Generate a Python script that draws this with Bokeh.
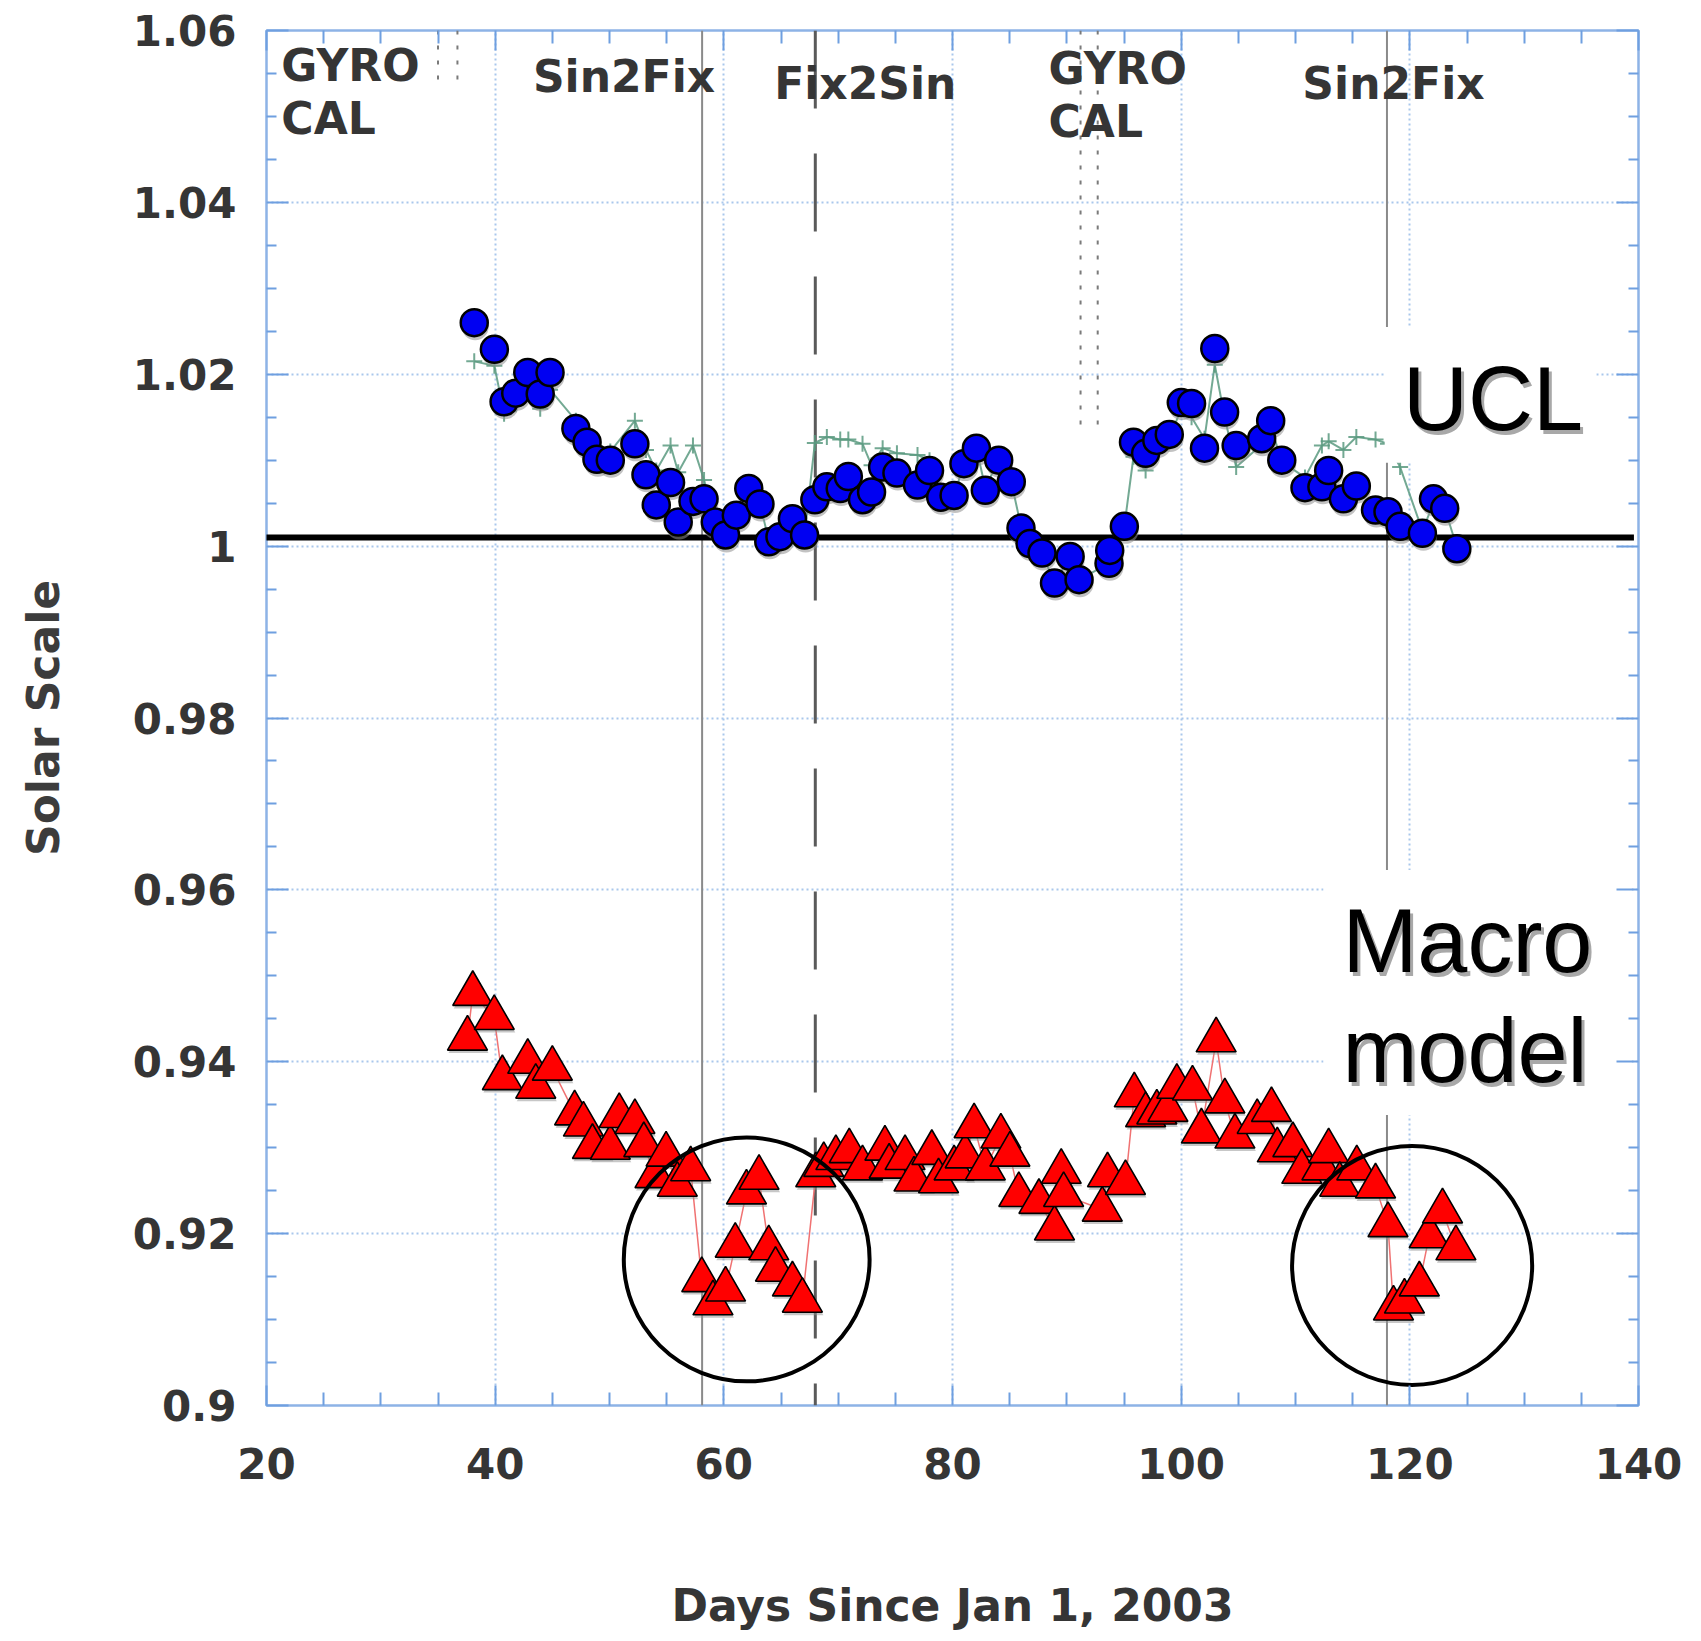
from bokeh.plotting import figure
from bokeh.models import FixedTicker, LinearAxis, Label, CustomJSTickFormatter
from bokeh.embed import file_html
from bokeh.resources import INLINE

# ---------------- data ----------------
ucl_x = [38.17, 39.93, 40.78, 41.80, 42.85, 43.94, 44.80, 47.06, 48.04, 48.90,
         50.07, 52.22, 53.19, 54.09, 55.34, 56.01, 57.30, 58.27, 59.25, 60.15,
         61.09, 62.18, 63.16, 63.93, 64.91, 66.00, 67.06, 67.96, 69.01, 70.18,
         70.89, 72.13, 72.92, 73.89, 75.14, 76.94, 77.99, 78.97, 80.14, 81.00,
         82.09, 82.87, 84.04, 85.14, 85.99, 86.78, 87.83, 88.92, 90.29, 91.07,
         93.69, 93.75, 95.03, 95.83, 96.89, 97.87, 98.96, 100.01, 100.91, 102.04,
         102.94, 103.80, 104.81, 107.04, 107.83, 108.80, 110.83, 112.31, 112.90, 114.19,
         115.32, 117.00, 118.09, 119.15, 121.10, 122.07, 123.05, 124.11]
ucl_y = [1.0260, 1.0229, 1.0168, 1.0178, 1.0202, 1.0177, 1.0202, 1.0137, 1.0121, 1.0101,
         1.0100, 1.0119, 1.0083, 1.0048, 1.0074, 1.0028, 1.0052, 1.0055, 1.0028, 1.0013,
         1.0036, 1.0067, 1.0049, 1.0005, 1.0011, 1.0032, 1.0013, 1.0054, 1.0069, 1.0067,
         1.0081, 1.0054, 1.0063, 1.0092, 1.0085, 1.0071, 1.0088, 1.0057, 1.0059, 1.0096,
         1.0114, 1.0065, 1.0100, 1.0075, 1.0021, 1.0003, 0.9992, 0.9957, 0.9988, 0.9961,
         0.9980, 0.9995, 1.0023, 1.0121, 1.0108, 1.0123, 1.0130, 1.0167, 1.0166, 1.0114,
         1.0230, 1.0156, 1.0117, 1.0125, 1.0146, 1.0100, 1.0068, 1.0069, 1.0088, 1.0055,
         1.0070, 1.0042, 1.0040, 1.0023, 1.0015, 1.0055, 1.0044, 0.9997]

# secondary (green, "+") UCL trace
alt_x = list(ucl_x)
alt_y = [1.0215, 1.0210, 1.0154, 1.0165, 1.0185, 1.0160, 1.0182, 1.0146, 1.0128, 1.0108,
         1.0110, 1.0146, 1.0112, 1.0088, 1.0117, 1.0086, 1.0117, 1.0077, 1.0030, 1.0015,
         1.0036, 1.0067, 1.0049, 1.0007, 1.0011, 1.0032, 1.0013, 1.0120, 1.0127, 1.0124,
         1.0124, 1.0119, 1.0094, 1.0114, 1.0108, 1.0106, 1.0100, 1.0062, 1.0059, 1.0096,
         1.0114, 1.0068, 1.0100, 1.0075, 1.0023, 1.0005, 0.9992, 0.9957, 0.9988, 0.9961,
         0.9980, 0.9995, 1.0023, 1.0104, 1.0088, 1.0115, 1.0125, 1.0160, 1.0150, 1.0125,
         1.0211, 1.0150, 1.0092, 1.0118, 1.0140, 1.0098, 1.0080, 1.0117, 1.0122, 1.0112,
         1.0127, 1.0124, 1.0119, 1.0092, 1.0018, 1.0050, 1.0044, 0.9999]

macro_x = [37.58, 38.04, 39.92, 40.63, 42.85, 43.55, 45.00, 46.95, 47.72, 48.51,
           50.07, 50.85, 52.22, 53.00, 53.98, 54.95, 55.93, 57.10, 58.07, 59.05,
           60.15, 61.00, 61.98, 63.08, 63.93, 64.52, 66.00, 66.87, 68.04, 68.74,
           69.80, 70.97, 72.13, 74.09, 74.46, 75.85, 76.63, 78.19, 78.78, 80.14,
           81.11, 81.89, 82.87, 84.23, 85.02, 85.80, 87.56, 88.92, 89.51, 89.72,
           93.10, 93.56, 95.13, 95.90, 96.89, 97.87, 98.84, 99.62, 100.99, 101.77,
           103.06, 103.82, 104.70, 106.65, 107.90, 108.41, 109.77, 110.55, 112.31, 112.90,
           113.87, 115.36, 117.00, 118.09, 118.57, 119.53, 120.83, 121.69, 122.86, 124.03]
macro_y = [0.9427, 0.9479, 0.9451, 0.9381, 0.9400, 0.9371, 0.9392, 0.9340, 0.9327, 0.9301,
           0.9300, 0.9337, 0.9330, 0.9303, 0.9267, 0.9292, 0.9257, 0.9275, 0.9146, 0.9119,
           0.9135, 0.9186, 0.9248, 0.9265, 0.9183, 0.9158, 0.9141, 0.9122, 0.9268, 0.9280,
           0.9288, 0.9296, 0.9276, 0.9299, 0.9278, 0.9288, 0.9263, 0.9294, 0.9261, 0.9276,
           0.9290, 0.9325, 0.9276, 0.9313, 0.9292, 0.9245, 0.9237, 0.9206, 0.9272, 0.9245,
           0.9228, 0.9268, 0.9259, 0.9361, 0.9338, 0.9341, 0.9344, 0.9371, 0.9369, 0.9319,
           0.9425, 0.9354, 0.9313, 0.9330, 0.9344, 0.9297, 0.9303, 0.9272, 0.9276, 0.9296,
           0.9257, 0.9276, 0.9255, 0.9210, 0.9113, 0.9121, 0.9141, 0.9197, 0.9226, 0.9183]

reference_level = 1.001

x_ticks = [20, 40, 60, 80, 100, 120, 140]
x_tick_labels = ["20", "40", "60", "80", "100", "120", "140"]
x_minor_ticks = [25, 30, 35, 45, 50, 55, 65, 70, 75, 85, 90, 95, 105, 110, 115, 125, 130, 135]
y_ticks = [0.90, 0.92, 0.94, 0.96, 0.98, 1.00, 1.02, 1.04, 1.06]
y_tick_labels = ["0.9", "0.92", "0.94", "0.96", "0.98", "1", "1.02", "1.04", "1.06"]
y_minor_ticks = [0.905, 0.91, 0.915, 0.925, 0.93, 0.935, 0.945, 0.95, 0.955,
                 0.965, 0.97, 0.975, 0.985, 0.99, 0.995, 1.005, 1.01, 1.015,
                 1.025, 1.03, 1.035, 1.045, 1.05, 1.055]

# events
sin2fix_x = [58.1, 118.0]
fix2sin_x = [68.0]
gyro_x = [35.0, 36.7, 91.2, 92.7]
gyro_y_end = [1.0538, 1.0538, 1.013, 1.013]

# highlighted regions (ellipses)
highlight_x = [62.0, 120.2]
highlight_y = [0.9170, 0.9163]
highlight_w = [21.5, 21.0]
highlight_h = [0.0284, 0.0278]

# region labels: text, x, baseline y
event_labels = [("GYRO", 21.3, 1.0540), ("CAL", 21.3, 1.0478),
                ("Sin2Fix", 43.3, 1.0527), ("Fix2Sin", 64.4, 1.0519),
                ("GYRO", 88.4, 1.0536), ("CAL", 88.4, 1.0474),
                ("Sin2Fix", 110.6, 1.0519)]
series_labels = [("UCL", 119.4, 1.0135), ("Macro", 114.1, 0.9504), ("model", 114.1, 0.9376)]
label_box_left = [117.8, 112.45]
label_box_right = [136.3, 139.4]
label_box_top = [1.0255, 0.9623]
label_box_bottom = [1.0097, 0.9338]

# ---------------- figure ----------------
X0, X1, Y0, Y1 = 20, 140, 0.90, 1.06
W, H = 1693, 1633
ML, MR, MT, MB = 266, 55, 30, 227
FW, FH = W - ML - MR, H - MT - MB
sx, sy = FW / (X1 - X0), FH / (Y1 - Y0)

p = figure(width=W, height=H, x_range=(X0, X1), y_range=(Y0, Y1),
           output_backend="svg", toolbar_location=None,
           min_border_left=ML, min_border_right=MR, min_border_top=MT, min_border_bottom=MB)
p.background_fill_color = "white"
p.border_fill_color = "white"
p.outline_line_color = "#8db3e6"
p.outline_line_width = 2.5

xticker = FixedTicker(ticks=x_ticks, minor_ticks=x_minor_ticks)
yticker = FixedTicker(ticks=y_ticks, minor_ticks=y_minor_ticks)
fmt_code = """
let best = -1, d = 1e9;
for (let i = 0; i < vals.length; i++) { const e = Math.abs(vals[i] - tick); if (e < d) { d = e; best = i; } }
return d < 1e-6 ? labs[best] : '';
"""
xfmt = CustomJSTickFormatter(args=dict(vals=x_ticks, labs=x_tick_labels), code=fmt_code)
yfmt = CustomJSTickFormatter(args=dict(vals=y_ticks, labs=y_tick_labels), code=fmt_code)
blank = CustomJSTickFormatter(code="return '';")

TICK = "#6f9fe0"
TXT = "#353535"

def style_axis(ax, major_in, minor_in):
    ax.axis_line_color = None
    ax.major_tick_in = major_in
    ax.major_tick_out = 0
    ax.minor_tick_in = minor_in
    ax.minor_tick_out = 0
    ax.major_tick_line_color = TICK
    ax.minor_tick_line_color = TICK
    ax.major_tick_line_width = 2
    ax.minor_tick_line_width = 2
    ax.major_label_text_font = "DejaVu Sans"
    ax.major_label_text_font_style = "bold"
    ax.major_label_text_font_size = "42px"
    ax.major_label_text_color = TXT

xa = p.xaxis[0]
xa.ticker = xticker
xa.formatter = xfmt
style_axis(xa, 20, 13)
xa.major_label_standoff = 42
xa.axis_label = "Days Since Jan 1, 2003"
xa.axis_label_text_font = "DejaVu Sans"
xa.axis_label_text_font_style = "bold"
xa.axis_label_text_font_size = "44px"
xa.axis_label_text_color = TXT
xa.axis_label_standoff = 98

ya = p.yaxis[0]
ya.ticker = yticker
ya.formatter = yfmt
style_axis(ya, 22, 10)
ya.major_label_standoff = 30
ya.axis_label = "Solar Scale"
ya.axis_label_text_font = "DejaVu Sans"
ya.axis_label_text_font_style = "bold"
ya.axis_label_text_font_size = "44px"
ya.axis_label_text_color = "#3c3c3c"
ya.axis_label_standoff = 61

top_ax = LinearAxis(ticker=xticker, formatter=blank)
style_axis(top_ax, 20, 13)
top_ax.major_label_standoff = 0
p.add_layout(top_ax, "above")
right_ax = LinearAxis(ticker=yticker, formatter=blank)
style_axis(right_ax, 22, 10)
right_ax.major_label_standoff = 0
p.add_layout(right_ax, "right")

for g in (p.xgrid[0], p.ygrid[0]):
    g.grid_line_color = "#a9c7ec"
    g.grid_line_width = 2
    g.grid_line_dash = "2 3"

# event lines
p.segment(x0=sin2fix_x, y0=[Y1] * len(sin2fix_x), x1=sin2fix_x, y1=[Y0] * len(sin2fix_x),
          line_color="#8a8a8a", line_width=2)
p.segment(x0=fix2sin_x, y0=[Y1] * len(fix2sin_x), x1=fix2sin_x, y1=[Y0] * len(fix2sin_x),
          line_color="#5a5a5a", line_width=3, line_dash="78 45")
p.segment(x0=gyro_x, y0=[Y1] * len(gyro_x), x1=gyro_x, y1=gyro_y_end,
          line_color="#7a7a7a", line_width=2, line_dash="4 11")

# secondary trace and model line
GREEN = "#5a9a80"
p.line(alt_x, alt_y, line_color=GREEN, line_width=2, line_alpha=0.85)
p.scatter(alt_x, alt_y, marker="cross", size=16, line_color=GREEN, line_width=2, line_alpha=0.85)
p.line(macro_x, macro_y, line_color="#f07272", line_width=1.5)

# white label boxes
p.quad(left=label_box_left, right=label_box_right, top=label_box_top, bottom=label_box_bottom,
       fill_color="white", line_color=None)

# reference level
p.line([X0 - 1, X0 + 119.6], [reference_level, reference_level], line_color="black", line_width=6)

# shadows
p.scatter([v + 1 / sx for v in ucl_x], [v - 4 / sy for v in ucl_y], marker="circle", size=27,
          fill_color="#8f8f8f", line_color=None, fill_alpha=0.55)
p.scatter([v + 1 / sx for v in macro_x], [v - 3 / sy for v in macro_y], marker="triangle", size=40,
          fill_color="#8f8f8f", line_color=None, fill_alpha=0.5)

# data markers
p.scatter(ucl_x, ucl_y, marker="circle", size=27, fill_color="#0000f2",
          line_color="black", line_width=2.5)
p.scatter(macro_x, macro_y, marker="triangle", size=40, fill_color="#ff0000",
          line_color="black", line_width=1.6)

# highlight ellipses
p.ellipse(x=highlight_x, y=highlight_y, width=highlight_w, height=highlight_h,
          fill_color=None, line_color="black", line_width=4)

# texts
for t, x, y in event_labels:
    p.add_layout(Label(x=x, y=y, y_offset=17, text=t, text_font="DejaVu Sans", text_font_style="bold",
                       text_font_size="44px", text_color=TXT, text_baseline="alphabetic",
                       text_align="left"))
for t, x, y in series_labels:
    p.add_layout(Label(x=x, y=y, text=t, x_offset=3, y_offset=31 - 4, text_font="Liberation Sans",
                       text_font_size="90px", text_color="#a8a8a8", text_baseline="alphabetic",
                       text_align="left"))
    p.add_layout(Label(x=x, y=y, text=t, y_offset=31, text_font="Liberation Sans",
                       text_font_size="90px", text_color="black", text_baseline="alphabetic",
                       text_align="left"))

open("out.html", "w").write(file_html(p, INLINE))
